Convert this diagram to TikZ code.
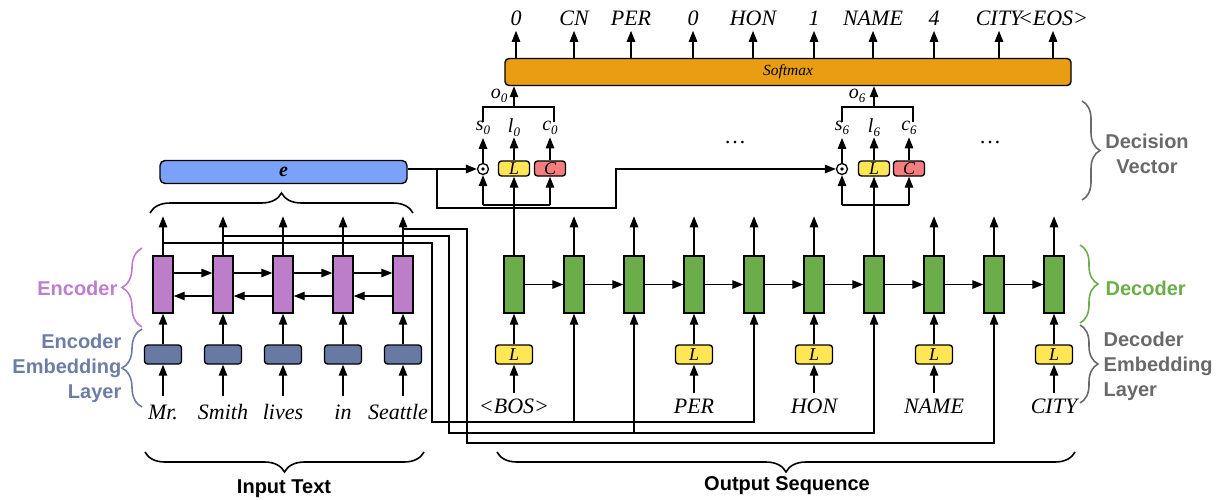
\documentclass[tikz,border=0pt]{standalone}
\usepackage{fontspec}
\setmainfont{Liberation Serif}
\setsansfont{Liberation Sans}
\usetikzlibrary{arrows.meta,decorations.pathreplacing,calc}
\definecolor{encfill}{RGB}{188,126,200}
\definecolor{embfill}{RGB}{104,122,163}
\definecolor{decfill}{RGB}{106,173,73}
\definecolor{lfill}{RGB}{255,230,85}
\definecolor{cfill}{RGB}{245,125,125}
\definecolor{efill}{RGB}{122,162,250}
\definecolor{smfill}{RGB}{232,157,18}
\definecolor{enctext}{RGB}{190,125,205}
\definecolor{embtext}{RGB}{108,125,168}
\definecolor{dectext}{RGB}{106,173,73}
\definecolor{graytext}{RGB}{105,105,105}
\newcommand\mysub[2]{{\itshape #1}\raisebox{-4pt}{\fontsize{13}{13}\selectfont\itshape #2}}
\begin{document}
\begin{tikzpicture}[x=1pt,y=-1pt,line width=1.3pt,
  >={Triangle[length=11pt,width=8.5pt]},
  enccell/.style={draw,line width=1.4pt,fill=encfill,minimum width=20pt,minimum height=57pt,inner sep=0},
  deccell/.style={draw,line width=1.4pt,fill=decfill,minimum width=20pt,minimum height=57pt,inner sep=0},
  embbox/.style={draw,line width=1.4pt,fill=embfill,rounded corners=3pt,minimum width=37pt,minimum height=19pt,inner sep=0},
  lbox/.style={draw,line width=1.4pt,fill=lfill,rounded corners=3pt,minimum width=37pt,minimum height=19pt,inner sep=0,font=\fontsize{18}{18}\selectfont\itshape},
  lsmall/.style={lbox,minimum width=31pt,minimum height=15pt},
  csmall/.style={lsmall,fill=cfill},
  odot/.style={circle,draw,line width=1.3pt,minimum size=11pt,inner sep=0,fill=white},
  word/.style={font=\fontsize{22}{22}\selectfont\itshape,inner sep=0},
  outlab/.style={font=\fontsize{22}{22}\selectfont\itshape,inner sep=0},
  declab/.style={font=\fontsize{20}{20}\selectfont,inner sep=0},
  sidelab/.style={font=\fontsize{20}{25}\selectfont\sffamily\bfseries,inner sep=0},
  brc/.style={decorate,line width=1.6pt,decoration={brace,amplitude=#1}},
  brc/.default=20pt
]
\useasboundingbox (0,0) rectangle (1226,499);

% ---------------- Encoder ----------------
\foreach \i/\x/\wx/\w in {1/163/163/Mr.,2/223/223/Smith,3/283/283/lives,4/343/343/in,5/403/398/Seattle}{
  \node[enccell] (enc\i) at (\x,284.5) {};
  \node[embbox] (emb\i) at (\x,354.5) {};
  \node[word,anchor=base] (w\i) at (\wx,419) {\w};
  \coordinate (wa\i) at (\x,396);
  \draw[->] (wa\i) -- (emb\i.south);
  \draw[->] (emb\i.north) -- (enc\i.south);
  \draw[->] (enc\i.north) -- ++(0,-39);
}
\foreach \i/\j in {1/2,2/3,3/4,4/5}{
  \draw[->] (enc\i.east |- 0,273) -- (enc\j.west |- 0,273);
  \draw[->] (enc\j.west |- 0,296) -- (enc\i.east |- 0,296);
}

% ---------------- Decoder ----------------
\foreach \i in {0,...,9}{
  \node[deccell] (dec\i) at ({514+60*\i},284.5) {};
}
\foreach \i [evaluate=\i as \j using int(\i+1)] in {0,...,8}{
  \draw[->] (dec\i.east) -- (dec\j.west);
}
\foreach \i/\w in {0/{<BOS>},3/PER,5/HON,7/NAME,9/CITY}{
  \node[lbox] (dl\i) at ({514+60*\i},354.5) {L};
  \node[word,anchor=base] (dw\i) at ({514+60*\i},413) {\w};
  \coordinate (da\i) at ({514+60*\i},393);
  \draw[->] (da\i) -- (dl\i.south);
  \draw[->] (dl\i.north) -- (dec\i.south);
}
\foreach \i in {1,2,3,4,5,7,8,9}{
  \draw[->] (dec\i.north) -- ++(0,-39);
}

% ---------------- routing from encoder to decoder ----------------
\coordinate (mrA) at (163,243);
\coordinate (mrB) at (432,243);
\coordinate (mrC) at (432,422);
\draw[->] (mrA) -- (mrB) -- (mrC) -| (dec4.south);
\draw[->] (dec1 |- mrC) -- (dec1.south);
\coordinate (smA) at (223,236);
\coordinate (smB) at (449,236);
\coordinate (smC) at (449,433);
\draw[->] (smA) -- (smB) -- (smC) -| (dec6.south);
\draw[->] (dec2 |- smC) -- (dec2.south);
\coordinate (seA) at (403,229);
\coordinate (seB) at (467,229);
\coordinate (seC) at (467,443);
\draw[->] (seA) -- (seB) -- (seC) -| (dec8.south);

% ---------------- e vector ----------------
\node[draw,line width=1.4pt,fill=efill,rounded corners=5pt,minimum width=247pt,minimum height=23pt,inner sep=0,
  font=\fontsize{20}{20}\selectfont\bfseries\itshape] (e) at (283.5,172) {e};
\draw[brc] (150,213) -- (413,213);

% ---------------- decision vectors ----------------
\foreach \k/\dx/\lx/\cx/\bx in {0/483/514/550/554,6/842/874/909/913}{
  \node[odot] (dot\k) at (\dx,169) {};
  \fill (dot\k.center) circle (1.8pt);
  \node[lsmall] (l\k) at (\lx,168.5) {L};
  \node[csmall] (c\k) at (\cx,168.5) {C};
  \coordinate (fa\k) at (\dx,205);
  \coordinate (fb\k) at (\cx,205);
  \draw (fa\k) -- (fb\k);
  \draw[->] (fa\k) -- (dot\k.south);
  \draw[->] (fb\k) -- (c\k.south);
  \draw[->] (dec\k.north) -- (l\k.south);
  \draw[->] (dot\k.north) -- ++(0,-25);
  \draw[->] (l\k.north) -- ++(0,-23);
  \draw[->] (c\k.north) -- ++(0,-23);
  \node[declab] at (\dx,128) {\mysub{s}{\k}};
  \node[declab] at (\lx,128) {\mysub{l}{\k}};
  \node[declab] at (\cx,128) {\mysub{c}{\k}};
  \coordinate (ka\k) at (\dx,122);
  \coordinate (kb\k) at (\bx,122);
  \draw (ka\k) -- ++(0,-15) -| (kb\k);
}
\draw[->] (e.east |- dot0) -- (dot0.west);
\coordinate (b1) at (437,169);
\coordinate (b2) at (437,208);
\coordinate (b3) at (616,208);
\coordinate (b4) at (616,169);
\draw[->] (b1) -- (b2) -- (b3) -- (b4) -- (dot6.west);

% ---------------- softmax ----------------
\node[draw,line width=1.4pt,fill=smfill,rounded corners=4pt,minimum width=566pt,minimum height=27pt,inner sep=0,
  font=\fontsize{15.5}{15.5}\selectfont\itshape] (sm) at (788,72) {Softmax};
\draw[->] (l0 |- 0,107) -- (l0 |- sm.south);
\draw[->] (l6 |- 0,107) -- (l6 |- sm.south);
\node[declab] at (499,96) {\mysub{o}{0}};
\node[declab] at (857,96) {\mysub{o}{6}};
\foreach \x/\t in {516/0,574/CN,631/PER,693/0,753/HON,814/1,873/NAME,934/4,999/CITY,1053/{<EOS>}}{
  \draw[->] (sm.north -| \x,0) -- ++(0,-27);
  \node[outlab,anchor=base] at (\x,25) {\t};
}
\node[font=\fontsize{22}{22}\selectfont] at (735,143) {\ldots};
\node[font=\fontsize{22}{22}\selectfont] at (990,143) {\ldots};

% ---------------- side labels ----------------
\draw[brc,enctext] (142,327) -- (142,248);
\node[sidelab,text=enctext,anchor=east] at (118,288) {Encoder};
\draw[brc,embtext] (142,407) -- (142,329);
\node[sidelab,text=embtext,anchor=east,align=right] at (122,368) {Encoder\\Embedding\\Layer};
\draw[brc=18pt,dectext] (1080,245) -- (1080,323);
\node[sidelab,text=dectext,anchor=west] at (1105,288) {Decoder};
\draw[brc=18pt,graytext] (1080,325) -- (1080,403);
\node[sidelab,text=graytext,anchor=west,align=left] at (1103,366) {Decoder\\Embedding\\Layer};
\draw[brc=18pt,graytext] (1082,101) -- (1082,200);
\node[sidelab,text=graytext,align=center] at (1147,154) {Decision\\Vector};

% ---------------- bottom braces ----------------
\draw[brc] (424,452) -- (145,452);
\node[sidelab,anchor=base] at (284,493) {Input Text};
\draw[brc] (1075,452) -- (497,452);
\node[sidelab,anchor=base] at (787,490) {Output Sequence};
\end{tikzpicture}
\end{document}
